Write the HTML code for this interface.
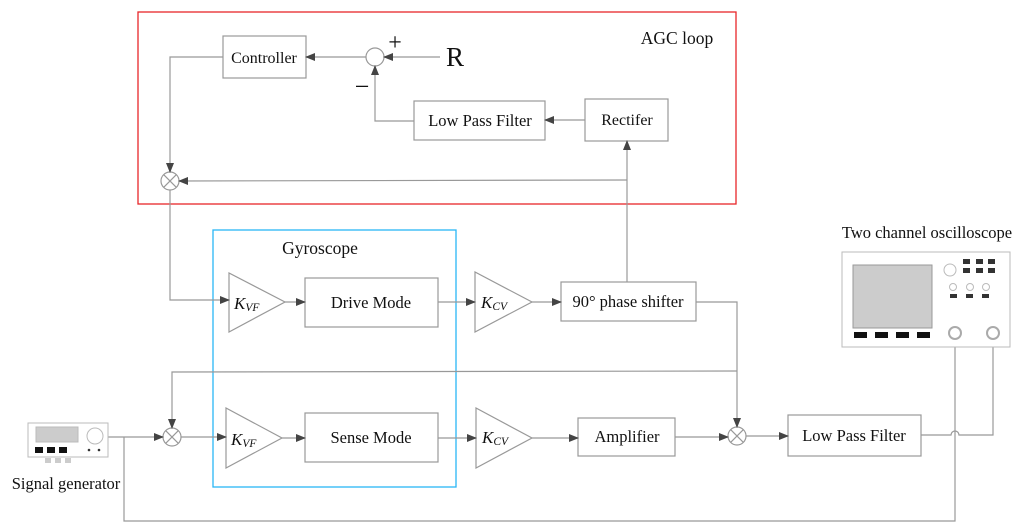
<!DOCTYPE html>
<html><head><meta charset="utf-8"><style>
html,body{margin:0;padding:0;background:#fff;width:1024px;height:532px;overflow:hidden}
text{font-family:"Liberation Serif",serif;fill:#111}
</style></head><body>
<svg width="1024" height="532" viewBox="0 0 1024 532" xmlns="http://www.w3.org/2000/svg">
<defs>
<marker id="a" markerWidth="10" markerHeight="8" refX="9" refY="4" orient="auto" markerUnits="userSpaceOnUse">
<path d="M0,0 L10,4 L0,8 z" fill="#444"/></marker>
</defs>
<g fill="none" stroke="#999" stroke-width="1.2">
<rect x="138" y="12" width="598" height="192" stroke="#e8262a" stroke-width="1.3"/>
<rect x="213" y="230" width="243" height="257" stroke="#29b6f6" stroke-width="1.3"/>
<rect x="223" y="36" width="83" height="42"/>
<rect x="414" y="101" width="131" height="39"/>
<rect x="585" y="99" width="83" height="42"/>
<circle cx="375" cy="57" r="9"/>
<circle cx="170" cy="181" r="9"/>
<path d="M163.6,174.6 L176.4,187.4 M176.4,174.6 L163.6,187.4"/>
<rect x="305" y="278" width="133" height="49"/>
<rect x="561" y="282" width="135" height="39"/>
<rect x="305" y="413" width="133" height="49"/>
<rect x="578" y="418" width="97" height="38"/>
<rect x="788" y="415" width="133" height="41"/>
<polygon points="229,273 229,332 285,302"/>
<polygon points="475,272 475,332 532,302"/>
<polygon points="226,408 226,468 282,438"/>
<polygon points="476,408 476,468 532,438"/>
<circle cx="172" cy="437" r="9"/>
<path d="M165.6,430.6 L178.4,443.4 M178.4,430.6 L165.6,443.4"/>
<circle cx="737" cy="436" r="9"/>
<path d="M730.6,429.6 L743.4,442.4 M743.4,429.6 L730.6,442.4"/>
</g>
<g fill="none" stroke="#999" stroke-width="1.2">
<path d="M440,57 L384,57" marker-end="url(#a)"/>
<path d="M366,57 L306,57" marker-end="url(#a)"/>
<path d="M223,57 L170,57 L170,172" marker-end="url(#a)"/>
<path d="M414,121 L375,121 L375,66" marker-end="url(#a)"/>
<path d="M585,120 L545,120" marker-end="url(#a)"/>
<path d="M627,282 L627,141" marker-end="url(#a)"/>
<path d="M627,180 L179,181" marker-end="url(#a)"/>
<path d="M170,190 L170,300 L229,300" marker-end="url(#a)"/>
<path d="M285,302 L305,302" marker-end="url(#a)"/>
<path d="M438,302 L475,302" marker-end="url(#a)"/>
<path d="M532,302 L561,302" marker-end="url(#a)"/>
<path d="M696,302 L737,302 L737,427" marker-end="url(#a)"/>
<path d="M737,371 L172,372 L172,428" marker-end="url(#a)"/>
<path d="M108,437 L163,437" marker-end="url(#a)"/>
<path d="M181,437 L226,437" marker-end="url(#a)"/>
<path d="M282,438 L305,438" marker-end="url(#a)"/>
<path d="M438,438 L476,438" marker-end="url(#a)"/>
<path d="M532,438 L578,438" marker-end="url(#a)"/>
<path d="M675,437 L728,437" marker-end="url(#a)"/>
<path d="M746,436 L788,436" marker-end="url(#a)"/>
<path d="M124,437 L124,521 L955,521 L955,333"/>
<path d="M921,435 L951,435 A4,4 0 0 1 959,435 L993,435 L993,333"/>
</g>
<g stroke="#bbb" stroke-width="1">
<rect x="28" y="423" width="80" height="34" fill="#fff"/>
<rect x="36" y="427" width="42" height="15" fill="#ccc"/>
<circle cx="95" cy="436" r="8" fill="#fff"/>
</g>
<rect x="35" y="447" width="8" height="6" fill="#111"/>
<rect x="47" y="447" width="8" height="6" fill="#111"/>
<rect x="59" y="447" width="8" height="6" fill="#111"/>
<circle cx="89" cy="450" r="1.3" fill="#333"/><circle cx="99" cy="450" r="1.3" fill="#333"/>
<rect x="45" y="458" width="6" height="5" fill="#ccc"/><rect x="55" y="458" width="6" height="5" fill="#ccc"/><rect x="65" y="458" width="6" height="5" fill="#ccc"/>
<g stroke="#bbb" stroke-width="1">
<rect x="842" y="252" width="168" height="95" fill="#fff"/>
<rect x="853" y="265" width="79" height="63" fill="#ccc" stroke="#999"/>
<circle cx="950" cy="270" r="6" fill="#fff"/>
<circle cx="953" cy="287" r="3.5" fill="#fff"/><circle cx="970" cy="287" r="3.5" fill="#fff"/><circle cx="986" cy="287" r="3.5" fill="#fff"/>
<circle cx="955" cy="333" r="6" fill="#fff" stroke="#aaa" stroke-width="2"/>
<circle cx="993" cy="333" r="6" fill="#fff" stroke="#aaa" stroke-width="2"/>
</g>
<g fill="#333">
<rect x="963" y="259" width="7" height="5"/><rect x="976" y="259" width="7" height="5"/><rect x="988" y="259" width="7" height="5"/>
<rect x="963" y="268" width="7" height="5"/><rect x="976" y="268" width="7" height="5"/><rect x="988" y="268" width="7" height="5"/>
<rect x="950" y="294" width="7" height="4"/><rect x="966" y="294" width="7" height="4"/><rect x="982" y="294" width="7" height="4"/>
</g>
<g fill="#111">
<rect x="854" y="332" width="13" height="6"/><rect x="875" y="332" width="13" height="6"/><rect x="896" y="332" width="13" height="6"/><rect x="917" y="332" width="13" height="6"/>
</g>
<text x="677" y="44" font-size="17.5" text-anchor="middle">AGC loop</text>
<text x="264" y="63" font-size="16" text-anchor="middle">Controller</text>
<text x="480" y="126" font-size="16.5" text-anchor="middle">Low Pass Filter</text>
<text x="627" y="125" font-size="16" text-anchor="middle">Rectifer</text>
<text x="455" y="66" font-size="27" text-anchor="middle">R</text>
<text x="395" y="50" font-size="24" text-anchor="middle">+</text>
<text x="362" y="95" font-size="26" text-anchor="middle">−</text>
<text x="320" y="254" font-size="17.5" text-anchor="middle">Gyroscope</text>
<text x="371" y="308" font-size="16.5" text-anchor="middle">Drive Mode</text>
<text x="371" y="443" font-size="16.5" text-anchor="middle">Sense Mode</text>
<text x="628" y="307" font-size="16.5" text-anchor="middle">90° phase shifter</text>
<text x="627" y="442" font-size="16.5" text-anchor="middle">Amplifier</text>
<text x="854" y="441" font-size="16.5" text-anchor="middle">Low Pass Filter</text>
<text x="927" y="238" font-size="16.5" text-anchor="middle">Two channel oscilloscope</text>
<text x="66" y="489" font-size="16.5" text-anchor="middle">Signal generator</text>
<text x="234" y="309" font-size="17" font-style="italic">K<tspan font-size="11.5" dy="2">VF</tspan></text>
<text x="231" y="445" font-size="17" font-style="italic">K<tspan font-size="11.5" dy="2">VF</tspan></text>
<text x="481" y="308" font-size="17" font-style="italic">K<tspan font-size="11.5" dy="2">CV</tspan></text>
<text x="482" y="443" font-size="17" font-style="italic">K<tspan font-size="11.5" dy="2">CV</tspan></text>
</svg>
</body></html>
